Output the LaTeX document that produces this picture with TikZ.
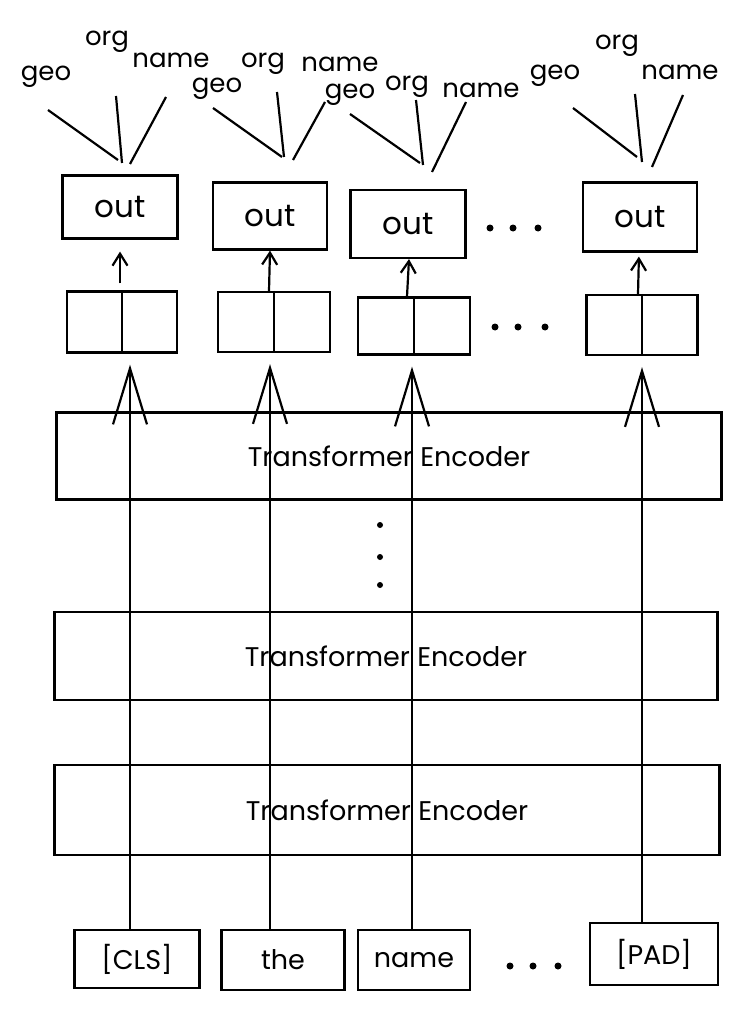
\documentclass[tikz,border=0pt]{standalone}
\usepackage{fontspec}
\setmainfont{Poppins}
\usetikzlibrary{arrows.meta}
\begin{document}
\begin{tikzpicture}[x=1pt,y=-1pt,
  box/.style={draw, line width=2.2pt, inner sep=0pt},
  tokbox/.style={box, font=\fontsize{27}{27}\selectfont},
  outbox/.style={box, font=\fontsize{31}{31}\selectfont},
  encbox/.style={box, font=\fontsize{27}{27}\selectfont},
  lbl/.style={font=\fontsize{26}{26}\selectfont, inner sep=0pt},
  bigup/.style={line width=2.2pt, -{Straight Barb[length=56pt, width=34pt]}, shorten >=11pt},
  smallup/.style={line width=2.2pt, -{Straight Barb[length=12pt, width=15pt]}},
  fan/.style={line width=2.2pt},
  dot/.style={circle, fill, inner sep=0pt, minimum size=7pt}
]
\useasboundingbox[fill=white] (0,0) rectangle (742,1011);

% tokens
\node[tokbox, minimum width=125pt, minimum height=58pt] (tok1) at (137,959) {[CLS]};
\node[tokbox, minimum width=123pt, minimum height=60pt] (tok2) at (283,960) {the};
\node[tokbox, minimum width=112pt, minimum height=60pt] (tok3) at (414,960) {name};
\node[tokbox, minimum width=128pt, minimum height=62pt] (tok4) at (654,954) {[PAD]};
\node[dot] (td1) at (510,966) {};
\node[dot] (td2) at (533,966) {};
\node[dot] (td3) at (558,966) {};

% encoders
\node[encbox, minimum width=665pt, minimum height=90pt] (enc3) at (387,810) {Transformer Encoder};
\node[encbox, minimum width=663pt, minimum height=88pt] (enc2) at (386,656) {Transformer Encoder};
\node[encbox, minimum width=665pt, minimum height=87pt] (enc1) at (389,456) {Transformer Encoder};
\node[dot, minimum size=6pt] (vd1) at (380,525) {};
\node[dot, minimum size=6pt] (vd2) at (380,557) {};
\node[dot, minimum size=6pt] (vd3) at (380,585) {};

% pair boxes
\node[box, minimum width=110pt, minimum height=61pt] (pair1) at (122,322) {};
\node[box, minimum width=112pt, minimum height=60pt] (pair2) at (274,322) {};
\node[box, minimum width=112pt, minimum height=57pt] (pair3) at (414,326) {};
\node[box, minimum width=111pt, minimum height=60pt] (pair4) at (642,325) {};
\foreach \p in {pair1,pair2,pair3,pair4}
  \draw[line width=2.2pt] (\p.north) -- (\p.south);
\node[dot] (pd1) at (495,327) {};
\node[dot] (pd2) at (518,327) {};
\node[dot] (pd3) at (545,327) {};

% out boxes
\node[outbox, minimum width=115pt, minimum height=63pt] (out1) at (120,207) {out};
\node[outbox, minimum width=114pt, minimum height=67pt] (out2) at (270,216) {out};
\node[outbox, minimum width=115pt, minimum height=68pt] (out3) at (408,224) {out};
\node[outbox, minimum width=114pt, minimum height=69pt] (out4) at (640,217) {out};
\node[dot] (od1) at (490,228) {};
\node[dot] (od2) at (513,228) {};
\node[dot] (od3) at (538,228) {};

% vertical arrows through the encoders
\coordinate (c1) at (130,0);
\coordinate (c2) at (270,0);
\coordinate (c3) at (412,0);
\coordinate (c4) at (642,0);
\draw[bigup] (tok1.north -| c1) -- (pair1.south -| c1);
\draw[bigup] (tok2.north -| c2) -- (pair2.south -| c2);
\draw[bigup] (tok3.north -| c3) -- (pair3.south -| c3);
\draw[bigup] (tok4.north -| c4) -- (pair4.south -| c4);

% small arrows from pair boxes to out boxes
\draw[smallup, shorten <=7pt, shorten >=12pt] (pair1.north -| out1.south) -- (out1.south);
\draw[smallup] ([xshift=-5pt]pair2.north) -- (out2.south);
\draw[smallup] ([xshift=-7pt]pair3.north) -- ([xshift=1pt]out3.south);
\draw[smallup, shorten >=4pt] ([xshift=-4pt]pair4.north) -- ([xshift=-1pt]out4.south);

% labels
\node[lbl] (geo1) at (46,77) {geo};
\node[lbl] (org1) at (107,42) {org};
\node[lbl] (name1) at (171,60) {name};
\node[lbl] (geo2) at (217,89) {geo};
\node[lbl] (org2) at (263,64) {org};
\node[lbl] (name2) at (340,64) {name};
\node[lbl] (geo3) at (350,95) {geo};
\node[lbl] (org3) at (407,87) {org};
\node[lbl] (name3) at (481,90) {name};
\node[lbl] (geo4) at (555,76) {geo};
\node[lbl] (org4) at (617,46) {org};
\node[lbl] (name4) at (680,72) {name};

% fan lines
\foreach \n/\ax/\ay/\bx/\by in {
  ga1/48/110/118/160, oa1/116/96/122/163, na1/166/97/130/164,
  ga2/213/108/282/157, oa2/277/92/284/157, na2/325/102/293/160,
  ga3/350/114/420/163, oa3/416/100/423/165, na3/466/102/432/172,
  ga4/573/108/637/157, oa4/635/94/642/162, na4/683/95/652/167}{
  \coordinate (\n s) at (\ax,\ay);
  \coordinate (\n e) at (\bx,\by);
  \draw[fan] (\n s) -- (\n e);
}
\end{tikzpicture}
\end{document}
